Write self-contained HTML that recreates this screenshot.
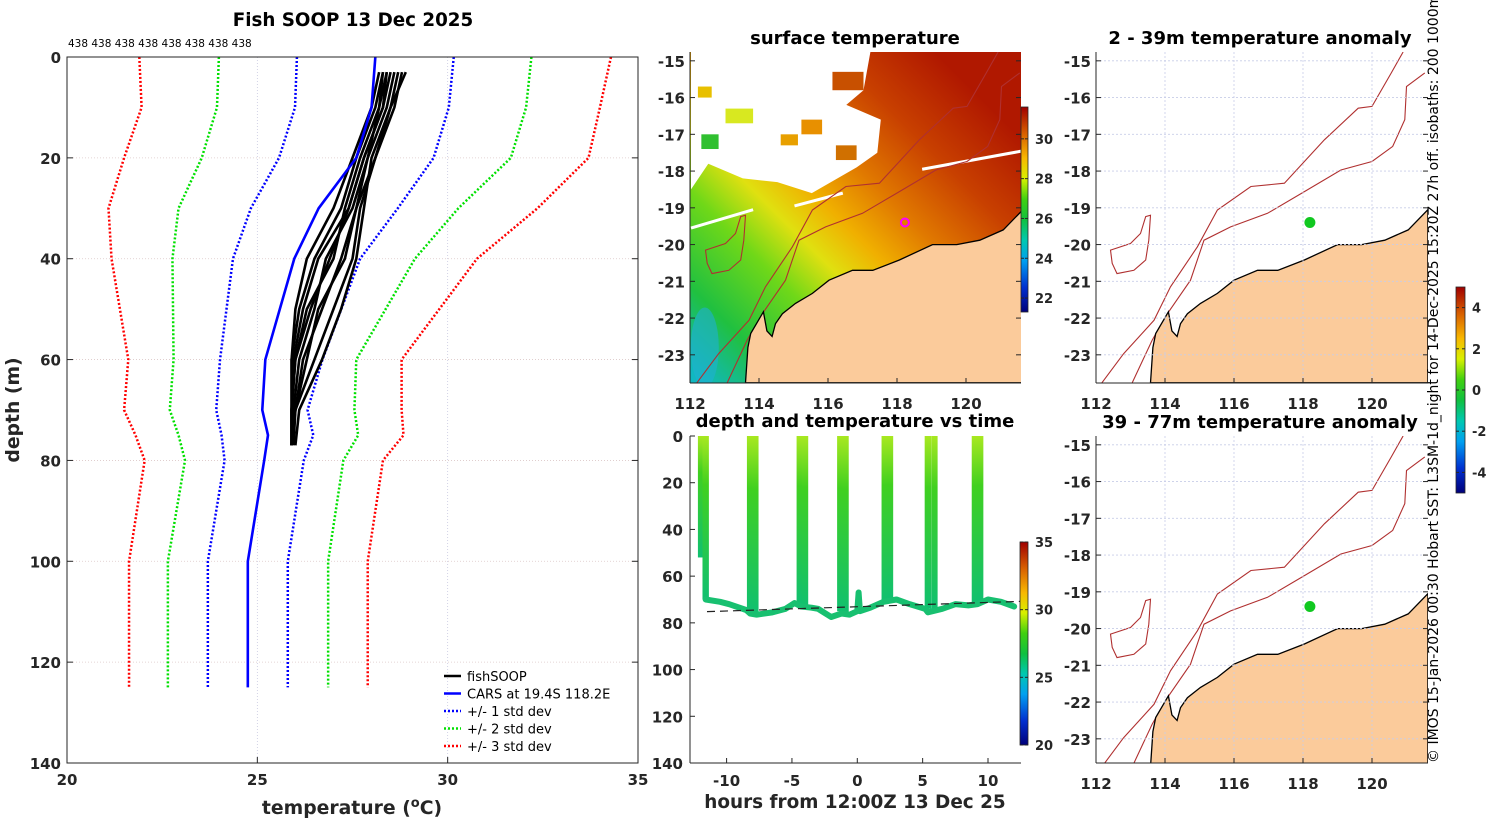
<!DOCTYPE html>
<html><head><meta charset="utf-8"><style>
html,body{margin:0;padding:0;background:#fff;}
svg{display:block;font-family:"DejaVu Sans","Liberation Sans",sans-serif;}
.tk{font-size:15px;font-weight:bold;fill:#262626;}
.ttl{font-size:18px;font-weight:bold;fill:#000;}
</style></head><body>
<svg id="fig" width="1500" height="820" viewBox="0 0 1500 820" xmlns="http://www.w3.org/2000/svg">
<defs>
<linearGradient id="jet" x1="0" y1="1" x2="0" y2="0">
<stop offset="0" stop-color="#00007a"/><stop offset="0.12" stop-color="#0030d0"/><stop offset="0.25" stop-color="#00a0f0"/><stop offset="0.35" stop-color="#00c8b0"/><stop offset="0.45" stop-color="#10c040"/><stop offset="0.55" stop-color="#40d010"/><stop offset="0.65" stop-color="#d8f000"/><stop offset="0.75" stop-color="#f8b800"/><stop offset="0.87" stop-color="#d86000"/><stop offset="1" stop-color="#a00000"/>
</linearGradient>
<linearGradient id="sst" gradientUnits="userSpaceOnUse" x1="700" y1="380" x2="1020" y2="60">
<stop offset="0" stop-color="#10b8c0"/><stop offset="0.13" stop-color="#20c040"/><stop offset="0.28" stop-color="#70d818"/><stop offset="0.38" stop-color="#e0e010"/><stop offset="0.47" stop-color="#f0b000"/><stop offset="0.58" stop-color="#e07800"/><stop offset="0.72" stop-color="#c84000"/><stop offset="0.88" stop-color="#b01800"/>
</linearGradient>
<linearGradient id="spk" x1="0" y1="0" x2="0" y2="1">
<stop offset="0" stop-color="#a8e820"/><stop offset="0.3" stop-color="#40d020"/><stop offset="1" stop-color="#10c070"/>
</linearGradient>
<clipPath id="clipM"><rect x="690" y="52" width="331" height="331"/></clipPath>
<clipPath id="clipA"><rect x="1096" y="52" width="332" height="331"/></clipPath>
<clipPath id="clipB"><rect x="1096" y="436" width="332" height="327"/></clipPath>
<clipPath id="clipT"><rect x="690" y="436" width="331" height="327"/></clipPath>
</defs>
<g id="root"></g>
</svg>
<script>
// ---------- data: left profile panel ----------
const stdDepths = [0,10,20,30,40,60,70,75,80,100,125];
const minus3 = [21.9,21.96,21.5,21.09,21.17,21.61,21.5,21.8,22.04,21.63,21.63];
const minus2 = [23.99,23.94,23.54,22.93,22.77,22.8,22.7,22.93,23.1,22.65,22.65];
const minus1 = [26.04,25.99,25.57,24.83,24.36,24.02,23.92,24.06,24.14,23.7,23.7];
const carsT  = [28.1,28.0,27.6,26.61,25.97,25.21,25.13,25.28,25.18,24.75,24.75];
const plus1  = [30.16,30.03,29.63,28.69,27.7,26.71,26.32,26.47,26.22,25.8,25.8];
const plus2  = [32.2,32.06,31.66,30.28,29.14,27.6,27.55,27.65,27.26,26.86,26.86];
const plus3  = [34.29,34.0,33.7,32.36,30.77,28.79,28.79,28.84,28.3,27.9,27.9];
const soopDepths = [3,10,20,30,40,50,60,70,77];
const soop1 = [28.3,28.1,27.6,27.2,26.5,26.1,25.9,25.9,25.9];
const soop2 = [28.5,28.3,27.8,27.4,26.9,26.4,26.0,25.9,25.9];
const soop3 = [28.2,28.0,27.5,27.0,26.3,26.0,25.9,25.9,25.9];
const soop4 = [28.8,28.6,28.1,27.7,27.5,27.0,26.5,26.0,25.95];
const soop5 = [28.6,28.4,27.9,27.6,27.2,26.7,26.2,26.0,25.9];
const soop6 = [28.4,28.2,27.7,27.3,27.0,26.3,26.0,25.9,25.9];
const soop7 = [28.9,28.5,28.0,27.8,27.6,27.2,26.7,26.1,26.0];
const soop8 = [28.3,28.2,27.9,27.5,26.8,26.5,26.1,25.95,25.9];
const soop9 = [28.7,28.5,28.1,27.6,27.3,26.6,26.3,26.0,25.9];
const soop10 = [28.4,28.3,27.8,27.4,26.6,26.2,25.95,25.9,25.9];
const xTicksL = [20,25,30,35];
const yTicksL = [0,20,40,60,80,100,120,140];
// ---------- data: time panel ----------
const bottomHours = [-11.6,-10.5,-9.8,-8.5,-8.2,-7.7,-6.5,-5.5,-4.8,-4.3,-3.5,-3,-2,-1.2,-0.6,0,0.1,0.2,1,2,3,4,5.2,5.4,6.5,7.5,8.5,9.2,10,11,12];
const bottomDepth = [70,71,72,74.5,76,76.5,75.5,74,71.5,73,73.5,74,77.5,76,76.5,75,67,75,73.5,71,70,72,74,75.5,74,72,72.5,72,70,71,73];
const spikeHours = [-11.95,-11.6,-8.2,-7.8,-4.4,-4.0,-1.3,-0.9,2.1,2.5,5.4,5.9,9.0,9.4];
const spikeBottom = [52,70,75,76,72,74,75,76,71,70,74,74,72,71];
const dashHours = [-11.5,12.5];
const dashDepth = [75.2,70.8];
const xTicksT = [-10,-5,0,5,10];
const yTicksT = [0,20,40,60,80,100,120,140];
// ---------- data: maps ----------
const coastLon = [113.58,113.65,113.73,114.1,114.2,114.35,114.45,114.65,115.03,115.52,116.0,116.68,117.27,118.04,119.0,119.7,120.37,121.05,121.62];
const coastLat = [-23.76,-22.8,-22.42,-21.83,-22.35,-22.5,-22.15,-21.88,-21.6,-21.33,-20.97,-20.7,-20.7,-20.42,-20.0,-20.0,-19.88,-19.6,-19.05];
const iso200Lon = [113.05,113.63,114.07,114.74,115.13,115.9,116.97,118.04,119.1,120.0,120.6,120.95,121.0,121.53];
const iso200Lat = [-23.76,-22.6,-21.88,-20.97,-19.88,-19.52,-19.15,-18.56,-17.97,-17.74,-17.33,-16.6,-15.7,-15.33];
const iso1000Lon = [112.17,112.8,113.68,114.16,114.94,115.52,116.49,117.46,118.62,119.6,120.0,120.56,120.9];
const iso1000Lat = [-23.76,-22.97,-22.06,-21.15,-20.06,-19.06,-18.42,-18.33,-17.15,-16.29,-16.24,-15.33,-14.76];
const reefLon = [112.42,113.0,113.29,113.44,113.58,113.53,113.44,113.1,112.61,112.47];
const reefLat = [-20.15,-19.97,-19.7,-19.24,-19.2,-19.88,-20.42,-20.7,-20.79,-20.51];
const cloudLon = [112,117.2,117.0,116.5,117.5,117.4,116.8,115.5,114.5,113.5,112.5,112];
const cloudLat = [-14.76,-14.76,-15.8,-16.2,-16.6,-17.5,-17.9,-18.6,-18.3,-18.2,-17.8,-18.5];
const shipLon = [118.2];
const shipLat = [-19.4];
const lonTicks = [112,114,116,118,120];
const latTicks = [-15,-16,-17,-18,-19,-20,-21,-22,-23];
const cbSST = [22,24,26,28,30];
const cbT = [20,25,30,35];
const cbA = [-4,-2,0,2,4];

const NS='http://www.w3.org/2000/svg';
const root=document.getElementById('root');
function mk(tag,attrs,parent){const e=document.createElementNS(NS,tag);for(const k in attrs)e.setAttribute(k,attrs[k]);(parent||root).appendChild(e);return e;}
function txt(x,y,s,cls,anchor,parent){const t=mk('text',{x:x,y:y,'class':cls,'text-anchor':anchor||'middle'},parent);t.textContent=s;return t;}

// ---------- left panel ----------
const L={x0:67,x1:638,y0:57,y1:763};
const lx=t=>L.x0+(t-20)*(L.x1-L.x0)/15;
const ly=d=>L.y0+d*(L.y1-L.y0)/140;
const gL=mk('g',{});


mk('rect',{x:L.x0,y:L.y0,width:L.x1-L.x0,height:L.y1-L.y0,fill:'#fff',stroke:'none'},gL);
xTicksL.forEach(t=>{mk('line',{x1:lx(t),x2:lx(t),y1:L.y0,y2:L.y1,stroke:'#c8c8e0','stroke-width':0.8,'stroke-dasharray':'1 2'},gL);});
yTicksL.forEach(d=>{mk('line',{x1:L.x0,x2:L.x1,y1:ly(d),y2:ly(d),stroke:'#dcc8c8','stroke-width':0.8,'stroke-dasharray':'1 2'},gL);});
function profLine(temps,depths,col,w,dash,name){
  const p=mk('polyline',{points:temps.map((t,i)=>lx(t)+','+ly(depths[i])).join(' '),fill:'none',stroke:col,'stroke-width':w,'stroke-linejoin':'round'},gL);
  if(dash)p.setAttribute('stroke-dasharray',dash);
  
  
}
profLine(minus3,stdDepths,'#ff0000',2.5,'2 2','minus-3-std-line');
profLine(minus2,stdDepths,'#00e000',2.5,'2 2','minus-2-std-line');
profLine(minus1,stdDepths,'#0000ff',2.5,'2 2','minus-1-std-line');
profLine(plus1,stdDepths,'#0000ff',2.5,'2 2','plus-1-std-line');
profLine(plus2,stdDepths,'#00e000',2.5,'2 2','plus-2-std-line');
profLine(plus3,stdDepths,'#ff0000',2.5,'2 2','plus-3-std-line');
[soop1,soop2,soop3,soop4,soop5,soop6,soop7,soop8,soop9,soop10].forEach(s=>profLine(s,soopDepths,'#000',2.6,null,'fishsoop-profile'));
profLine(carsT,stdDepths,'#0000ff',2.6,null,'cars-climatology-line');
mk('rect',{x:L.x0,y:L.y0,width:L.x1-L.x0,height:L.y1-L.y0,fill:'none',stroke:'#262626','stroke-width':1},gL);
xTicksL.forEach(t=>{mk('line',{x1:lx(t),x2:lx(t),y1:L.y1,y2:L.y1-6,stroke:'#262626'},gL);txt(lx(t),785,String(t),'tk','middle',gL);});
yTicksL.forEach(d=>{mk('line',{x1:L.x0,x2:L.x0+6,y1:ly(d),y2:ly(d),stroke:'#262626'},gL);mk('line',{x1:L.x1,x2:L.x1-6,y1:ly(d),y2:ly(d),stroke:'#262626'},gL);txt(61,ly(d)+6,String(d),'tk','end',gL);});
const tl=txt(353,26,'Fish SOOP 13 Dec 2025','ttl','middle',gL);tl.style.fontSize='18.3px';
const cnt=txt(68,47,'438 438 438 438 438 438 438 438','', 'start',gL);cnt.setAttribute('font-size','10.5');
const xl=mk('text',{x:352,y:814,'text-anchor':'middle','class':'tk'},gL);xl.innerHTML='temperature (<tspan dy="-7" style="font-size:13px">o</tspan><tspan dy="7">C)</tspan>';xl.style.fontSize='18.8px';

const yl=txt(0,0,'depth (m)','tk','middle',gL);yl.setAttribute('transform','translate(19,410) rotate(-90)');yl.style.fontSize='18.8px';

const legItems=[['fishSOOP','#000',null],['CARS at 19.4S 118.2E','#0000ff',null],['+/- 1 std dev','#0000ff','2 2'],['+/- 2 std dev','#00e000','2 2'],['+/- 3 std dev','#ff0000','2 2']];
legItems.forEach((it,i)=>{const y=676+i*17.5;const g=mk('g',{},gL);
 const l=mk('line',{x1:444,x2:461,y1:y,y2:y,stroke:it[1],'stroke-width':2.5},g);if(it[2])l.setAttribute('stroke-dasharray',it[2]);
 const t=txt(467,y+5,it[0],'','start',g);t.setAttribute('font-size','13');});

// ---------- map helpers ----------
const mx=(lon,x0)=>x0+(lon-112)*34.5;
const my=(lat,y0)=>y0+(-14.76-lat)*36.75;
function poly(lons,lats,x0,y0){return lons.map((l,i)=>mx(l,x0).toFixed(1)+','+my(lats[i],y0).toFixed(1)).join(' ');}
function landPoints(x0,y0){const p=poly(coastLon,coastLat,x0,y0);return p+' '+mx(121.62,x0)+','+my(-23.76,y0);}
function mapAxes(g,x0,y0,w,h,grid){
  if(grid){lonTicks.forEach(l=>mk('line',{x1:mx(l,x0),x2:mx(l,x0),y1:y0,y2:y0+h,stroke:'#c8cde8','stroke-width':0.8,'stroke-dasharray':'2 2'},g));
  latTicks.forEach(l=>mk('line',{x1:x0,x2:x0+w,y1:my(l,y0),y2:my(l,y0),stroke:'#c8cde8','stroke-width':0.8,'stroke-dasharray':'2 2'},g));}
  mk('line',{x1:x0,x2:x0,y1:y0,y2:y0+h,stroke:'#262626'},g);
  mk('line',{x1:x0,x2:x0+w,y1:y0+h,y2:y0+h,stroke:'#262626'},g);
  lonTicks.forEach(l=>{mk('line',{x1:mx(l,x0),x2:mx(l,x0),y1:y0+h,y2:y0+h-5,stroke:'#262626'},g);txt(mx(l,x0),y0+h+26,String(l),'tk','middle',g);});
  latTicks.forEach(l=>{mk('line',{x1:x0,x2:x0+5,y1:my(l,y0),y2:my(l,y0),stroke:'#262626'},g);mk('line',{x1:x0+w,x2:x0+w-5,y1:my(l,y0),y2:my(l,y0),stroke:'#262626'},g);txt(x0-5,my(l,y0)+6,String(l),'tk','end',g);});
}
function isobaths(g,x0,y0){
  const a=mk('polyline',{points:poly(iso200Lon,iso200Lat,x0,y0),fill:'none',stroke:'#b03030','stroke-width':1.1},g);
  const b=mk('polyline',{points:poly(iso1000Lon,iso1000Lat,x0,y0),fill:'none',stroke:'#b03030','stroke-width':1.1},g);
  mk('polygon',{points:poly(reefLon,reefLat,x0,y0),fill:'none',stroke:'#b03030','stroke-width':1.1},g);
}
function land(g,x0,y0){const p=mk('polygon',{points:landPoints(x0,y0),fill:'#fbcb9b',stroke:'#000','stroke-width':1.3},g);}
function colorbar(x,y,w,h,vals,vmin,vmax,name){
  const g=mk('g',{});
  mk('rect',{x:x,y:y,width:w,height:h,fill:'url(#jet)',stroke:'#262626','stroke-width':0.8},g);
  vals.forEach(v=>{const yy=y+h-(v-vmin)/(vmax-vmin)*h;mk('line',{x1:x,x2:x+3,y1:yy,y2:yy,stroke:'#262626'},g);mk('line',{x1:x+w,x2:x+w-3,y1:yy,y2:yy,stroke:'#262626'},g);const t=txt(x+w+7,yy+5,String(v),'tk','start',g);t.style.fontSize='13px';});
}

// ---------- SST map ----------
const gM=mk('g',{});
const gMc=mk('g',{'clip-path':'url(#clipM)'},gM);
mk('rect',{x:690,y:52,width:331,height:331,fill:'url(#sst)'},gMc);
mk('polygon',{points:poly(cloudLon,cloudLat,691,52),fill:'#fff'},gMc);
[[113,-16.3,0.8,0.4,'#d8e820'],[112.2,-15.7,0.4,0.3,'#e8c000'],[115.2,-16.6,0.6,0.4,'#e89000'],[116.1,-15.3,0.9,0.5,'#c85000'],[114.6,-17.0,0.5,0.3,'#e8a000'],[112.3,-17.0,0.5,0.4,'#30c030'],[116.2,-17.3,0.6,0.4,'#d07000']].forEach(b=>mk('rect',{x:mx(b[0],691),y:my(b[1],52),width:b[2]*34.5,height:b[3]*36.75,fill:b[4]},gMc));
[[112,-19.55,113.8,-19.05],[115.0,-18.95,116.4,-18.6],[118.7,-17.95,121.62,-17.45]].forEach(s=>mk('line',{x1:mx(s[0],691),y1:my(s[1],52),x2:mx(s[2],691),y2:my(s[3],52),stroke:'#fff','stroke-width':3},gMc));
mk('ellipse',{cx:mx(112.4,691),cy:my(-22.8,52),rx:14,ry:40,fill:'#20b0d0',opacity:0.6},gMc);
isobaths(gMc,691,52);land(gMc,691,52);
const ship=mk('circle',{cx:mx(shipLon[0],691),cy:my(shipLat[0],52),r:4,fill:'none',stroke:'#ff00ff','stroke-width':2},gM);
mapAxes(gM,690,52,331,331,false);
txt(855,44,'surface temperature','ttl','middle',gM);
colorbar(1021,107,7,205,cbSST,21.3,31.6,'sst-colorbar');

// ---------- time panel ----------
const T={x0:690,x1:1021,y0:436,y1:763};
const tx=h=>T.x0+(h+12.8)*13.07;
const ty=d=>T.y0+d*(T.y1-T.y0)/140;
const gT=mk('g',{});
const gTc=mk('g',{'clip-path':'url(#clipT)'},gT);
spikeHours.forEach((h,i)=>{const r=mk('rect',{x:tx(h)-3.2,y:ty(0),width:6.4,height:ty(spikeBottom[i])-ty(0),fill:'url(#spk)'},gTc);});
const bt=mk('polyline',{points:bottomHours.map((h,i)=>tx(h)+','+ty(bottomDepth[i])).join(' '),fill:'none',stroke:'#18c070','stroke-width':6,'stroke-linejoin':'round','stroke-linecap':'round'},gTc);

const dl=mk('line',{x1:tx(dashHours[0]),y1:ty(dashDepth[0]),x2:tx(dashHours[1]),y2:ty(dashDepth[1]),stroke:'#222','stroke-width':1.2,'stroke-dasharray':'8 5'},gTc);

mk('line',{x1:T.x0,x2:T.x0,y1:T.y0,y2:T.y1,stroke:'#262626'},gT);
mk('line',{x1:T.x0,x2:T.x1,y1:T.y1,y2:T.y1,stroke:'#262626'},gT);
xTicksT.forEach(h=>{mk('line',{x1:tx(h),x2:tx(h),y1:T.y1,y2:T.y1-5,stroke:'#262626'},gT);txt(tx(h),786,String(h),'tk','middle',gT);});
yTicksT.forEach(d=>{mk('line',{x1:T.x0,x2:T.x0+5,y1:ty(d),y2:ty(d),stroke:'#262626'},gT);txt(683,ty(d)+6,String(d),'tk','end',gT);});
txt(855,427,'depth and temperature vs time','ttl','middle',gT);
const tlx=txt(855,808,'hours from 12:00Z 13 Dec 25','tk','middle',gT);tlx.style.fontSize='18.4px';
colorbar(1020,542,8,203,cbT,20,35,'time-colorbar');

// ---------- anomaly maps ----------
function anomMap(y0,h,clip,title,name){
  const g=mk('g',{});
  const gc=mk('g',{'clip-path':'url('+clip+')'},g);
  mapAxes(g,1096,y0,332,h,true);
  isobaths(gc,1096,y0);land(gc,1096,y0);
  const d=mk('circle',{cx:mx(shipLon[0],1096),cy:my(shipLat[0],y0),r:5.5,fill:'#10c820'},gc);
  txt(1260,y0-8,title,'ttl','middle',g);
}
anomMap(52,331,'#clipA','2 - 39m temperature anomaly','anomaly-map-shallow');
anomMap(436,327,'#clipB','39 - 77m temperature anomaly','anomaly-map-deep');
colorbar(1456,287,9,206,cbA,-5,5,'anomaly-colorbar');

const side=txt(0,0,'© IMOS 15-Jan-2026 00:30 Hobart SST: L3SM-1d_night for 14-Dec-2025 15:20Z 27h off. isobaths: 200   1000m','','start');
side.setAttribute('transform','translate(1438,763) rotate(-90)');side.setAttribute('font-size','14');side.setAttribute('xml:space','preserve');

</script>
</body></html>
